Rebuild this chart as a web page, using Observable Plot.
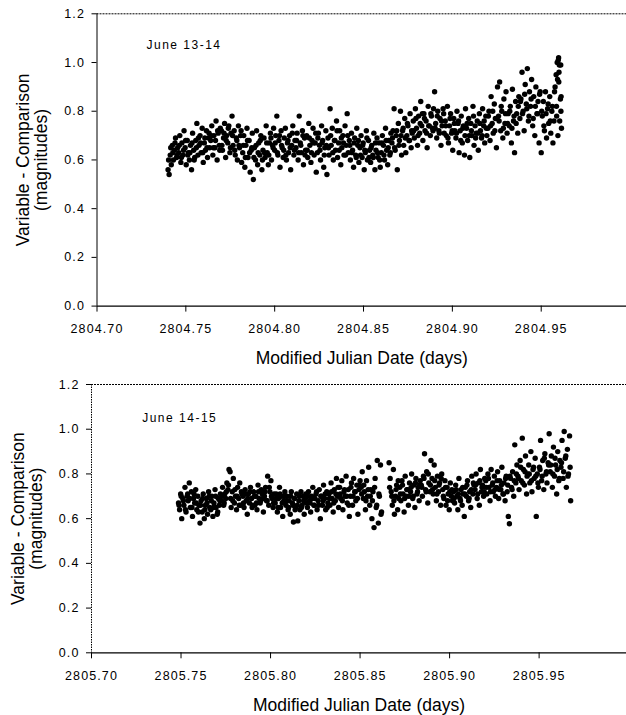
<!DOCTYPE html>
<html><head><meta charset="utf-8">
<script src="https://cdn.jsdelivr.net/npm/d3@7"></script>
<script src="https://cdn.jsdelivr.net/npm/@observablehq/plot@0.6"></script>
<style>
html,body{margin:0;padding:0;background:#fff;}
svg{display:block;}
</style></head><body><div id="chart"></div>
<script>
// ---- Panel 1: June 13-14 (MJD 2804.xxxx) ----
const nightTop = 2804;
const topFrac = [
.7400,.7406,.7412,.7418,.7424,.7430,.7436,.7442,.7448,.7454,
.7460,.7466,.7472,.7478,.7484,.7490,.7496,.7502,.7508,.7514,
.7520,.7526,.7532,.7538,.7544,.7550,.7556,.7562,.7568,.7574,
.7580,.7586,.7592,.7598,.7604,.7610,.7616,.7622,.7628,.7634,
.7640,.7646,.7652,.7658,.7664,.7670,.7676,.7682,.7688,.7694,
.7700,.7706,.7712,.7718,.7724,.7730,.7736,.7742,.7748,.7754,
.7760,.7766,.7772,.7778,.7784,.7790,.7796,.7802,.7808,.7814,
.7820,.7826,.7832,.7838,.7844,.7850,.7856,.7862,.7868,.7874,
.7880,.7886,.7892,.7898,.7904,.7910,.7916,.7922,.7928,.7934,
.7940,.7946,.7952,.7958,.7964,.7970,.7976,.7982,.7988,.7994,
.8000,.8006,.8012,.8018,.8024,.8030,.8036,.8042,.8048,.8054,
.8060,.8066,.8072,.8078,.8084,.8090,.8096,.8102,.8108,.8114,
.8120,.8126,.8132,.8138,.8144,.8150,.8156,.8162,.8168,.8174,
.8180,.8186,.8192,.8198,.8204,.8210,.8216,.8222,.8228,.8234,
.8240,.8246,.8252,.8258,.8264,.8270,.8276,.8282,.8288,.8294,
.8300,.8306,.8312,.8318,.8324,.8330,.8336,.8342,.8348,.8354,
.8360,.8366,.8372,.8378,.8384,.8390,.8396,.8402,.8408,.8414,
.8420,.8426,.8432,.8438,.8444,.8450,.8456,.8462,.8468,.8474,
.8480,.8486,.8492,.8498,.8504,.8510,.8516,.8522,.8528,.8534,
.8540,.8546,.8552,.8558,.8564,.8570,.8576,.8582,.8588,.8594,
.8600,.8606,.8612,.8618,.8624,.8630,.8636,.8642,.8648,.8654,
.8660,.8666,.8672,.8678,.8684,.8690,.8696,.8702,.8708,.8714,
.8720,.8726,.8732,.8738,.8744,.8750,.8756,.8762,.8768,.8774,
.8780,.8786,.8792,.8798,.8804,.8810,.8816,.8822,.8828,.8834,
.8840,.8846,.8852,.8858,.8864,.8870,.8876,.8882,.8888,.8894,
.8900,.8906,.8912,.8918,.8924,.8930,.8936,.8942,.8948,.8954,
.8960,.8966,.8972,.8978,.8984,.8990,.8996,.9002,.9008,.9014,
.9020,.9026,.9032,.9038,.9044,.9050,.9056,.9062,.9068,.9074,
.9080,.9086,.9092,.9098,.9104,.9110,.9116,.9122,.9128,.9134,
.9140,.9146,.9152,.9158,.9164,.9170,.9176,.9182,.9188,.9194,
.9200,.9206,.9212,.9218,.9224,.9230,.9236,.9242,.9248,.9254,
.9260,.9266,.9272,.9278,.9284,.9290,.9296,.9302,.9308,.9314,
.9320,.9326,.9332,.9338,.9344,.9350,.9356,.9362,.9368,.9374,
.9380,.9386,.9392,.9398,.9404,.9410,.9416,.9422,.9428,.9434,
.9440,.9446,.9452,.9458,.9464,.9470,.9476,.9482,.9488,.9494,
.9500,.9506,.9512,.9518,.9524,.9530,.9536,.9542,.9548,.9554,
.9560,.9566,.9572,.9578,.9584,.9590,.9596,.9602,.9608,.9614,
.9586,.9592,.9598,.9604,.9610,.9612,.9594,.9600
];
const topMag = [
.56,.54,.62,.58,.66,.60,.64,.69,.61,.65,
.63,.70,.59,.67,.62,.72,.65,.58,.68,.63,
.60,.66,.56,.71,.64,.61,.68,.75,.62,.66,
.70,.63,.73,.59,.67,.64,.72,.61,.69,.65,
.68,.74,.62,.70,.65,.76,.60,.71,.66,.73,
.72,.64,.69,.75,.61,.70,.67,.74,.63,.71,
.78,.66,.72,.62,.69,.60,.74,.65,.70,.59,
.63,.70,.57,.66,.73,.61,.68,.55,.64,.71,
.52,.65,.60,.72,.58,.67,.62,.70,.56,.64,
.69,.61,.74,.63,.58,.67,.71,.60,.66,.73,
.64,.70,.78,.62,.68,.57,.72,.65,.61,.69,
.73,.60,.67,.63,.70,.56,.66,.74,.62,.68,
.65,.71,.60,.78,.67,.63,.72,.58,.69,.64,
.70,.61,.75,.66,.59,.68,.73,.62,.67,.55,
.63,.71,.66,.60,.74,.68,.57,.65,.72,.54,
.69,.62,.81,.66,.73,.60,.68,.64,.76,.61,
.67,.72,.58,.65,.70,.62,.74,.66,.79,.63,
.68,.60,.71,.64,.57,.69,.62,.73,.66,.59,
.65,.70,.61,.67,.56,.63,.72,.60,.68,.64,
.59,.66,.62,.71,.56,.64,.69,.61,.67,.57,
.63,.70,.66,.60,.73,.64,.58,.68,.62,.71,
.67,.72,.81,.64,.70,.56,.75,.68,.80,.62,
.72,.66,.77,.63,.70,.74,.68,.79,.65,.71,
.76,.69,.81,.73,.66,.78,.71,.84,.74,.68,
.79,.72,.76,.65,.82,.74,.70,.78,.73,.81,
.88,.75,.69,.80,.72,.77,.66,.74,.81,.71,
.76,.70,.82,.67,.74,.79,.71,.64,.77,.72,
.69,.80,.75,.63,.72,.78,.67,.74,.62,.81,
.73,.68,.77,.61,.75,.70,.82,.66,.74,.71,
.76,.64,.79,.72,.69,.81,.74,.67,.78,.70,
.73,.80,.68,.86,.75,.71,.83,.77,.65,.90,
.78,.92,.72,.80,.69,.85,.75,.88,.71,.79,
.74,.82,.67,.89,.76,.63,.84,.79,.71,.86,
.77,.85,.96,.80,.72,.91,.83,.975,.76,.88,
.82,.93,.74,.86,.70,.90,.79,.84,.67,.88,
.63,.78,.84,.72,.88,.69,.81,.75,.86,.71,
.80,.67,.76,.90,.95,1.00,1.01,.99,.85,.73,
.82,.93,1.02,.76,.99,.86,.70,.96
];
const topFrac2 = [
.7403,.7415,.7427,.7439,.7451, .7463,.7475,.7487,.7499,.7511,
.7523,.7535,.7547,.7559,.7571, .7583,.7595,.7607,.7619,.7631,
.7643,.7655,.7667,.7679,.7691, .7703,.7715,.7727,.7739,.7751,
.7763,.7775,.7787,.7799,.7811, .7823,.7835,.7847,.7859,.7871,
.7883,.7895,.7907,.7919,.7931, .7943,.7955,.7967,.7979,.7991,
.8003,.8015,.8027,.8039,.8051, .8063,.8075,.8087,.8099,.8111,
.8123,.8135,.8147,.8159,.8171, .8183,.8195,.8207,.8219,.8231,
.8243,.8255,.8267,.8279,.8291, .8303,.8315,.8327,.8339,.8351,
.8363,.8375,.8387,.8399,.8411, .8423,.8435,.8447,.8459,.8471,
.8483,.8495,.8507,.8519,.8531, .8543,.8555,.8567,.8579,.8591,
.8603,.8615,.8627,.8639,.8651, .8663,.8675,.8687,.8699,.8711,
.8723,.8735,.8747,.8759,.8771, .8783,.8795,.8807,.8819,.8831,
.8843,.8855,.8867,.8879,.8891, .8903,.8915,.8927,.8939,.8951,
.8963,.8975,.8987,.8999,.9011, .9023,.9035,.9047,.9059,.9071,
.9083,.9095,.9107,.9119,.9131, .9143,.9155,.9167,.9179,.9191,
.9203,.9215,.9227,.9239,.9251, .9263,.9275,.9287,.9299,.9311,
.9323,.9335,.9347,.9359,.9371, .9383,.9395,.9407,.9419,.9431,
.9443,.9455,.9467,.9479,.9491, .9503,.9515,.9527,.9539,.9551,
.9563,.9575,.9587,.9599,.9611
];
const topMag2 = [
.60,.65,.63,.67,.62, .66,.61,.64,.68,.62,
.63,.67,.60,.65,.69, .67,.63,.69,.65,.71,
.70,.65,.68,.72,.64, .66,.71,.68,.73,.65,
.70,.64,.68,.66,.72, .66,.61,.68,.63,.65,
.61,.66,.63,.68,.60, .63,.67,.62,.69,.65,
.67,.63,.70,.66,.64, .62,.68,.65,.71,.64,
.68,.63,.66,.70,.62, .64,.69,.63,.67,.71,
.69,.64,.67,.62,.66, .65,.70,.63,.68,.72,
.64,.69,.67,.62,.70, .66,.63,.67,.61,.68,
.62,.66,.64,.69,.61, .65,.61,.67,.63,.60,
.67,.62,.68,.65,.63, .69,.65,.72,.66,.70,
.73,.69,.75,.68,.72, .72,.77,.70,.75,.79,
.77,.71,.74,.79,.72, .73,.78,.71,.76,.79,
.74,.69,.77,.72,.75, .71,.76,.68,.73,.70,
.75,.70,.72,.78,.69, .71,.75,.70,.76,.73,
.78,.74,.80,.72,.77, .76,.82,.73,.79,.75,
.80,.73,.78,.75,.82, .84,.79,.87,.81,.78,
.85,.77,.82,.79,.87, .80,.74,.79,.83,.76,
.82,.88,.78,.92,.80
];

// ---- Panel 2: June 14-15 (MJD 2805.xxxx) ----
const nightBottom = 2805;
const bottomFrac = [
.7486,.7492,.7498,.7504,.7510,.7516,.7522,.7528,.7534,.7540,
.7546,.7552,.7558,.7564,.7570,.7576,.7582,.7588,.7594,.7600,
.7606,.7612,.7618,.7624,.7630,.7636,.7642,.7648,.7654,.7660,
.7666,.7672,.7678,.7684,.7690,.7696,.7702,.7708,.7714,.7720,
.7726,.7732,.7738,.7744,.7750,.7756,.7762,.7768,.7774,.7780,
.7786,.7792,.7798,.7804,.7810,.7816,.7822,.7828,.7834,.7840,
.7846,.7852,.7858,.7864,.7870,.7876,.7882,.7888,.7894,.7900,
.7906,.7912,.7918,.7924,.7930,.7936,.7942,.7948,.7954,.7960,
.7966,.7972,.7978,.7984,.7990,.7996,.8002,.8008,.8014,.8020,
.8026,.8032,.8038,.8044,.8050,.8056,.8062,.8068,.8074,.8080,
.8086,.8092,.8098,.8104,.8110,.8116,.8122,.8128,.8134,.8140,
.8146,.8152,.8158,.8164,.8170,.8176,.8182,.8188,.8194,.8200,
.8206,.8212,.8218,.8224,.8230,.8236,.8242,.8248,.8254,.8260,
.8266,.8272,.8278,.8284,.8290,.8296,.8302,.8308,.8314,.8320,
.8326,.8332,.8338,.8344,.8350,.8356,.8362,.8368,.8374,.8380,
.8386,.8392,.8398,.8404,.8410,.8416,.8422,.8428,.8434,.8440,
.8446,.8452,.8458,.8464,.8470,.8476,.8482,.8488,.8494,.8500,
.8506,.8512,.8518,.8524,.8530,.8536,.8542,.8548,.8554,.8560,
.8566,.8572,.8578,.8584,.8590,.8596,.8602,.8608,.8614,.8620,
.8662,.8668,.8674,.8680,.8686,.8692,.8698,.8704,.8710,.8716,
.8722,.8728,.8734,.8740,.8746,.8752,.8758,.8764,.8770,.8776,
.8782,.8788,.8794,.8800,.8806,.8812,.8818,.8824,.8830,.8836,
.8842,.8848,.8854,.8860,.8866,.8872,.8878,.8884,.8890,.8896,
.8902,.8908,.8914,.8920,.8926,.8932,.8938,.8944,.8950,.8956,
.8962,.8968,.8974,.8980,.8986,.8992,.8998,.9004,.9010,.9016,
.9022,.9028,.9034,.9040,.9046,.9052,.9058,.9064,.9070,.9076,
.9082,.9088,.9094,.9100,.9106,.9112,.9118,.9124,.9130,.9136,
.9142,.9148,.9154,.9160,.9166,.9172,.9178,.9184,.9190,.9196,
.9202,.9208,.9214,.9220,.9226,.9232,.9238,.9244,.9250,.9256,
.9262,.9268,.9274,.9280,.9286,.9292,.9298,.9304,.9310,.9316,
.9322,.9328,.9334,.9340,.9346,.9352,.9358,.9364,.9370,.9376,
.9382,.9388,.9394,.9400,.9406,.9412,.9418,.9424,.9430,.9436,
.9442,.9448,.9454,.9460,.9466,.9472,.9478,.9484,.9490,.9496,
.9502,.9508,.9514,.9520,.9526,.9532,.9538,.9544,.9550,.9556,
.9562,.9568,.9574,.9580,.9586,.9592,.9598,.9604,.9610,.9616,
.9622,.9628,.9634,.9640,.9646,.9652,.9658,.9664,.9670,.9676
];
const bottomMag = [
.67,.64,.71,.60,.69,.66,.74,.63,.70,.68,
.76,.65,.72,.61,.69,.67,.73,.64,.70,.66,
.58,.68,.63,.71,.60,.66,.69,.62,.72,.65,
.64,.70,.61,.67,.73,.65,.62,.69,.66,.71,
.68,.74,.66,.71,.69,.76,.73,.82,.81,.65,
.72,.78,.67,.70,.64,.74,.69,.76,.66,.71,
.70,.65,.73,.68,.62,.71,.67,.74,.69,.66,
.72,.66,.70,.64,.75,.69,.67,.73,.71,.63,
.70,.74,.68,.79,.66,.72,.77,.69,.65,.71,
.67,.71,.63,.69,.74,.65,.70,.61,.68,.72,
.66,.70,.64,.68,.62,.72,.67,.585,.69,.65,
.71,.59,.68,.64,.72,.66,.70,.62,.69,.67,
.65,.72,.68,.63,.70,.74,.66,.69,.71,.64,
.68,.73,.60,.70,.66,.75,.69,.64,.72,.67,
.71,.66,.76,.69,.63,.73,.68,.78,.70,.65,
.74,.69,.77,.64,.72,.70,.79,.67,.73,.61,
.70,.76,.66,.78,.72,.68,.75,.62,.73,.77,
.74,.81,.69,.72,.64,.77,.70,.83,.66,.73,
.60,.72,.56,.78,.65,.86,.58,.70,.84,.63,
.85,.78,.72,.66,.82,.62,.70,.75,.64,.69,
.74,.68,.77,.71,.63,.79,.70,.73,.66,.76,
.72,.80,.69,.75,.65,.78,.71,.74,.68,.77,
.75,.70,.79,.89,.73,.81,.67,.76,.72,.86,
.78,.71,.84,.74,.68,.79,.72,.76,.66,.80,
.73,.69,.77,.66,.74,.71,.64,.76,.70,.68,
.72,.67,.75,.70,.64,.78,.69,.73,.66,.71,
.61,.74,.70,.77,.68,.72,.65,.79,.71,.75,
.73,.80,.69,.76,.66,.82,.72,.75,.70,.78,
.77,.71,.80,.74,.68,.82,.75,.72,.79,.70,
.74,.81,.69,.77,.73,.83,.71,.76,.68,.79,
.72,.61,.577,.78,.74,.81,.70,.93,.76,.84,
.79,.73,.86,.77,.96,.82,.75,.88,.71,.80,
.84,.76,.90,.72,.82,.78,.87,.61,.80,.74,
.83,.95,.77,.86,.73,.89,.80,.76,.85,.98,
.81,.88,.74,.92,.79,.84,.71,.90,.77,.86,
.83,.95,.78,.99,.87,.74,.91,.80,.97,.68
];
const bottomFrac2 = [
.7489,.7501,.7513,.7525,.7537, .7549,.7561,.7573,.7585,.7597,
.7609,.7621,.7633,.7645,.7657, .7669,.7681,.7693,.7705,.7717,
.7729,.7741,.7753,.7765,.7777, .7789,.7801,.7813,.7825,.7837,
.7849,.7861,.7873,.7885,.7897, .7909,.7921,.7933,.7945,.7957,
.7969,.7981,.7993,.8005,.8017, .8029,.8041,.8053,.8065,.8077,
.8089,.8101,.8113,.8125,.8137, .8149,.8161,.8173,.8185,.8197,
.8209,.8221,.8233,.8245,.8257, .8269,.8281,.8293,.8305,.8317,
.8329,.8341,.8353,.8365,.8377, .8389,.8401,.8413,.8425,.8437,
.8449,.8461,.8473,.8485,.8497, .8509,.8521,.8533,.8545,.8557,
.8569,.8581,.8593,.8605,.8617, .8665,.8677,.8689,.8701,.8713,
.8725,.8737,.8749,.8761,.8773, .8785,.8797,.8809,.8821,.8833,
.8845,.8857,.8869,.8881,.8893, .8905,.8917,.8929,.8941,.8953,
.8965,.8977,.8989,.9001,.9013, .9025,.9037,.9049,.9061,.9073,
.9085,.9097,.9109,.9121,.9133, .9145,.9157,.9169,.9181,.9193,
.9205,.9217,.9229,.9241,.9253, .9265,.9277,.9289,.9301,.9313,
.9325,.9337,.9349,.9361,.9373, .9385,.9397,.9409,.9421,.9433,
.9445,.9457,.9469,.9481,.9493, .9505,.9517,.9529,.9541,.9553,
.9565,.9577,.9589,.9601,.9613, .9625,.9637,.9649,.9661,.9673
];
const bottomMag2 = [
.66,.70,.68,.64,.71, .69,.65,.71,.67,.63,
.66,.69,.64,.67,.70, .68,.65,.70,.63,.68,
.70,.67,.72,.75,.69, .68,.73,.70,.66,.72,
.67,.71,.69,.72,.65, .70,.67,.72,.68,.69,
.72,.68,.74,.70,.67, .69,.65,.71,.67,.70,
.68,.65,.70,.66,.64, .66,.70,.65,.68,.71,
.70,.67,.69,.66,.72, .66,.70,.68,.71,.65,
.69,.72,.67,.71,.74, .71,.68,.73,.70,.66,
.74,.70,.72,.69,.75, .71,.75,.68,.73,.70,
.68,.74,.66,.71,.62, .74,.70,.68,.73,.77,
.71,.75,.69,.73,.70, .74,.70,.76,.72,.75,
.74,.78,.72,.80,.75, .73,.77,.71,.75,.78,
.70,.74,.68,.72,.73, .69,.73,.71,.68,.74,
.71,.75,.69,.73,.76, .75,.71,.77,.74,.72,
.74,.78,.72,.76,.73, .77,.73,.75,.71,.78,
.75,.79,.73,.77,.80, .78,.83,.76,.81,.79,
.80,.77,.83,.79,.76, .82,.79,.87,.81,.84,
.84,.80,.87,.82,.78, .85,.81,.88,.79,.83
];

const panelLabels = ["June 13-14", "June 14-15"];
const yTicks = [0, 0.2, 0.4, 0.6, 0.8, 1.0, 1.2];
const xTickOffsets = [0.70, 0.75, 0.80, 0.85, 0.90, 0.95];
const xTitle = "Modified Julian Date (days)";
const yTitle1 = "Variable - Comparison";
const yTitle2 = "(magnitudes)";

function panel(o) {
  const data = o.frac.map((f, i) => ({t: o.night + f, m: o.mag[i]}))
    .concat(o.frac2.map((f, i) => ({t: o.night + f, m: o.mag2[i]})));
  const xTicks = xTickOffsets.map(v => o.night + v);
  const svg = Plot.plot({
    width: 626, height: o.height,
    marginTop: o.marginTop, marginBottom: o.marginBottom,
    marginLeft: o.marginLeft, marginRight: 0,
    style: {fontFamily: '"Liberation Sans", Arial, sans-serif', fontSize: "12.5px", color: "black", background: "white", letterSpacing: "1.1px"},
    x: {domain: [o.night + 0.70, o.night + o.xMax]},
    y: {domain: [0, 1.2]},
    marks: [
      Plot.ruleY([1.2], {stroke: "black", strokeDasharray: "2,1", strokeWidth: 1}),
      Plot.ruleX([o.night + 0.70], {stroke: "black", strokeDasharray: o.leftDash, strokeWidth: 1}),
      Plot.ruleY([0], {stroke: "black", strokeWidth: 1.2}),
      Plot.axisX({ticks: xTicks, tickFormat: d => d.toFixed(2), tickSize: 6, tickPadding: 12, label: null}),
      Plot.axisY({ticks: yTicks, tickFormat: d => d.toFixed(1), tickSize: 5, tickPadding: 7, label: null}),
      Plot.dot(data, {x: "t", y: "m", r: 2.7, fill: "black"}),
      Plot.text([o.label], {text: d => d, frameAnchor: "top-left", textAnchor: "start", lineAnchor: "bottom", dx: o.labelDx, dy: o.labelDy, fontSize: 12}),
      Plot.text([xTitle], {text: d => d, frameAnchor: "bottom", textAnchor: "middle", lineAnchor: "bottom", dy: 58, fontSize: 17.5}),
      Plot.text([yTitle1], {text: d => d, frameAnchor: "left", textAnchor: "middle", rotate: -90, lineAnchor: "bottom", dx: -68, fontSize: 17.5}),
      Plot.text([yTitle2], {text: d => d, frameAnchor: "left", textAnchor: "middle", rotate: -90, lineAnchor: "bottom", dx: -50, fontSize: 17.5})
    ]
  });
  d3.select(svg).selectAll("text").each(function() {
    const t = this.textContent;
    if (t === xTitle || t === yTitle1 || t === yTitle2) d3.select(this).style("letter-spacing", "0px");
    else if (panelLabels.includes(t)) d3.select(this).style("letter-spacing", "1.5px");
  });
  return svg;
}

const root = document.getElementById("chart");
root.appendChild(panel({night: nightTop, frac: topFrac, mag: topMag, frac2: topFrac2, mag2: topMag2, label: panelLabels[0],
  height: 372, marginTop: 13.3, marginBottom: 66.4, marginLeft: 96.5, xMax: 0.998,
  leftDash: null, labelDx: 49.5, labelDy: 35}));
root.appendChild(panel({night: nightBottom, frac: bottomFrac, mag: bottomMag, frac2: bottomFrac2, mag2: bottomMag2, label: panelLabels[1],
  height: 343, marginTop: 12, marginBottom: 62.7, marginLeft: 91, xMax: 0.9988,
  leftDash: "1.5,1", labelDx: 50.7, labelDy: 37.7}));
</script></body></html>
